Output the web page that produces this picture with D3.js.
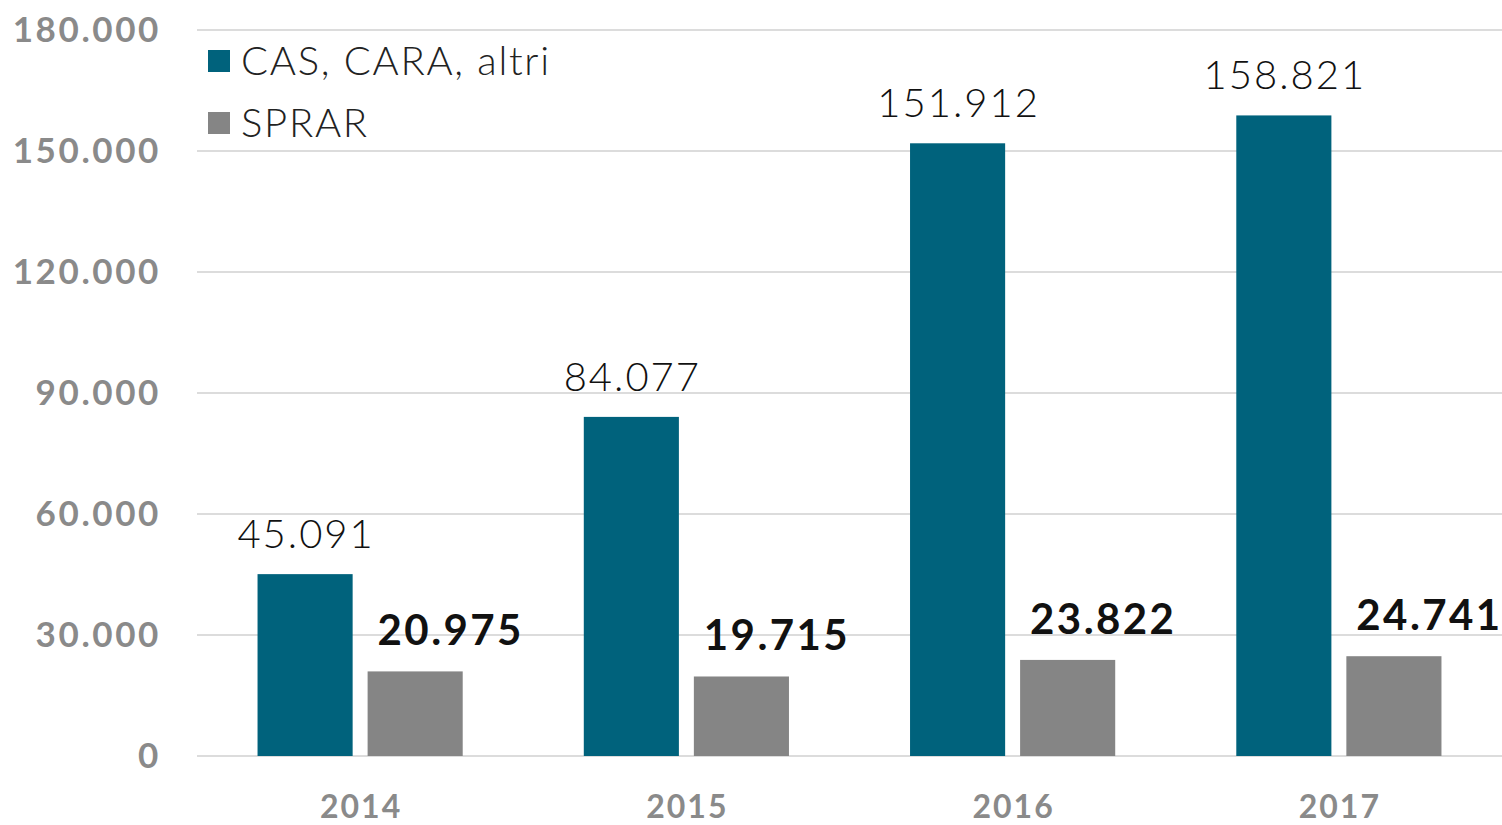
<!DOCTYPE html>
<html>
<head>
<meta charset="utf-8">
<script src="https://cdn.jsdelivr.net/npm/d3@7"></script>
<style>
  body { margin: 0; background: #fff; }
  svg { display: block; }
  .tick text { font-family: Lato, "Open Sans", sans-serif; }
</style>
</head>
<body>
<svg id="chart" width="1502" height="825"></svg>
<script>
var years = ["2014", "2015", "2016", "2017"];
var seriesNames = ["CAS, CARA, altri", "SPRAR"];
var casValues = [45091, 84077, 151912, 158821];
var sprarValues = [20975, 19715, 23822, 24741];
var yTicks = [0, 30000, 60000, 90000, 120000, 150000, 180000];
var colors = ["#00627c", "#858585"];

var svg = d3.select("#chart");
var margin = { left: 197, right: 0, top: 30, bottom: 69 };
var width = 1502, height = 825;

var fmt = function(v) { return d3.format(",")(v).replace(/,/g, "."); };

var rows = years.map(function(y, i) {
    return { year: y, values: [casValues[i], sprarValues[i]] };
});

var x0 = d3.scaleBand().domain(years).range([margin.left, width - margin.right]);
var x1 = d3.scaleBand().domain([0, 1]).range([0, x0.bandwidth()])
    .paddingInner(0.136).paddingOuter(0.55);
var y = d3.scaleLinear().domain([0, 180000]).range([height - margin.bottom, margin.top]);

// gridlines
svg.append("g")
    .selectAll("line")
    .data(yTicks)
    .join("line")
    .attr("x1", margin.left)
    .attr("x2", width)
    .attr("y1", d => y(d))
    .attr("y2", d => y(d))
    .attr("stroke", "#dcdcdc")
    .attr("stroke-width", 2);

// y axis labels
var yAxis = svg.append("g")
    .attr("transform", "translate(161,0)")
    .call(d3.axisLeft(y).tickValues(yTicks).tickFormat(fmt).tickSize(0).tickPadding(0));
yAxis.select(".domain").remove();
yAxis.selectAll("text")
    .attr("fill", "#8a8a8a")
    .attr("font-size", 35)
    .attr("letter-spacing", 2.6)
    .attr("font-weight", "bold");

// x axis labels
var xAxis = svg.append("g")
    .attr("transform", "translate(0," + (height - margin.bottom) + ")")
    .call(d3.axisBottom(x0).tickSize(0).tickPadding(39));
xAxis.select(".domain").remove();
xAxis.selectAll("text")
    .attr("fill", "#8a8a8a")
    .attr("font-size", 32)
    .attr("letter-spacing", 2)
    .attr("dx", 1)
    .attr("font-weight", "bold");

// bars
var groups = svg.append("g")
    .selectAll("g")
    .data(rows)
    .join("g")
    .attr("transform", d => "translate(" + x0(d.year) + ",0)");

groups.selectAll("rect")
    .data(d => d.values.map((v, i) => ({ i: i, v: v })))
    .join("rect")
    .attr("x", d => x1(d.i))
    .attr("width", x1.bandwidth())
    .attr("y", d => y(d.v))
    .attr("height", d => y(0) - y(d.v))
    .attr("fill", d => colors[d.i]);

// value labels
groups.selectAll("text.val")
    .data(d => d.values.map((v, i) => ({ i: i, v: v })))
    .join("text")
    .attr("class", "val")
    .attr("x", d => d.i === 0 ? x1(d.i) + x1.bandwidth() / 2 + 1 : x1(d.i) + 10)
    .attr("y", d => y(d.v) - 26)
    .attr("text-anchor", d => d.i === 0 ? "middle" : "start")
    .attr("font-family", "Lato, 'Open Sans', sans-serif")
    .attr("font-size", d => d.i === 0 ? 40 : 42)
    .attr("letter-spacing", d => d.i === 0 ? 2 : 2.4)
    .attr("font-weight", d => d.i === 0 ? 300 : "bold")
    .attr("fill", "#111")
    .text(d => fmt(d.v));

// legend
var legend = svg.append("g")
    .selectAll("g")
    .data(seriesNames)
    .join("g")
    .attr("transform", (d, i) => "translate(208," + (50 + i * 62) + ")");
legend.append("rect")
    .attr("width", 22)
    .attr("height", 22)
    .attr("fill", (d, i) => colors[i]);
legend.append("text")
    .attr("x", 33)
    .attr("y", 25)
    .attr("font-family", "Lato, 'Open Sans', sans-serif")
    .attr("font-size", 40)
    .attr("font-weight", 300)
    .attr("letter-spacing", 1.7)
    .attr("fill", "#222")
    .text(d => d);
</script>
</body>
</html>
